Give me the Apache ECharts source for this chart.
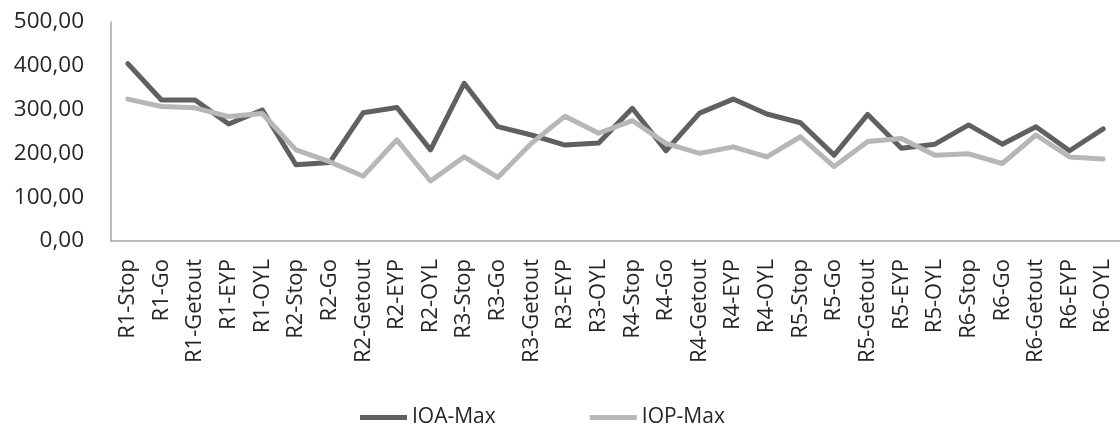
<!DOCTYPE html>
<html>
<head>
<meta charset="utf-8" />
<title>IOA / IOP Max</title>
<script src="https://cdn.jsdelivr.net/npm/echarts@6/dist/echarts.min.js"></script>
<style>
  html, body { margin: 0; padding: 0; background: #fff; }
  #chart { width: 1120px; height: 425px; }
</style>
</head>
<body>
<div id="chart"></div>
<script>
// categories (route - phase)
const categories = [
  "R1-Stop", "R1-Go", "R1-Getout", "R1-EYP", "R1-OYL",
  "R2-Stop", "R2-Go", "R2-Getout", "R2-EYP", "R2-OYL",
  "R3-Stop", "R3-Go", "R3-Getout", "R3-EYP", "R3-OYL",
  "R4-Stop", "R4-Go", "R4-Getout", "R4-EYP", "R4-OYL",
  "R5-Stop", "R5-Go", "R5-Getout", "R5-EYP", "R5-OYL",
  "R6-Stop", "R6-Go", "R6-Getout", "R6-EYP", "R6-OYL",
];

// values
const ioaMax = [
  405, 322, 322, 267, 299,
  174, 179, 293, 305, 208,
  360, 261, 242, 219, 224,
  303, 206, 292, 324, 290,
  270, 196, 289, 212, 221,
  265, 221, 261, 206, 256,
];
const iopMax = [
  324, 307, 304, 284, 291,
  208, 181, 148, 231, 137,
  192, 145, 223, 285, 246,
  275, 223, 200, 215, 192,
  238, 170, 227, 234, 196,
  199, 177, 242, 192, 187,
];

const seriesNames = ["IOA-Max", "IOP-Max"];
const colors = ["#606060", "#b7b7b7"];

const chart = echarts.init(document.getElementById("chart"));

const option = {
  animation: false,
  color: colors,
  textStyle: { fontFamily: "Open Sans" },
  legend: {
    data: seriesNames,
    left: 355,
    top: 402,
    icon: "rect",
    itemWidth: 47,
    itemHeight: 5,
    itemGap: 94,
    textStyle: { color: "#262626", fontSize: 21, fontFamily: "Open Sans" },
  },
  grid: {
    left: 111,
    top: 22,
    width: 1015,
    bottom: 184,
    containLabel: false,
  },
  xAxis: {
    type: "category",
    data: categories,
    boundaryGap: true,
    axisLine: { show: true, lineStyle: { color: "#a6a6a6", width: 1.5 } },
    axisTick: { show: false },
    axisLabel: {
      rotate: 90,
      interval: 0,
      margin: 18,
      color: "#262626",
      fontSize: 22,
      fontFamily: "Open Sans",
    },
  },
  yAxis: {
    type: "value",
    min: 0,
    max: 500,
    interval: 100,
    axisLine: { show: true, lineStyle: { color: "#a6a6a6", width: 1.5 } },
    axisTick: { show: false },
    splitLine: { show: false },
    axisLabel: {
      margin: 27,
      color: "#262626",
      fontSize: 22.5,
      fontFamily: "Open Sans",
      formatter: function (value) {
        return value.toFixed(2).replace(".", ",");
      },
    },
  },
  series: [
    {
      name: seriesNames[0],
      type: "line",
      data: ioaMax,
      symbol: "none",
      lineStyle: { width: 5, cap: "round", join: "round" },
    },
    {
      name: seriesNames[1],
      type: "line",
      data: iopMax,
      symbol: "none",
      lineStyle: { width: 5, cap: "round", join: "round" },
    },
  ],
};

chart.setOption(option);
</script>
</body>
</html>
